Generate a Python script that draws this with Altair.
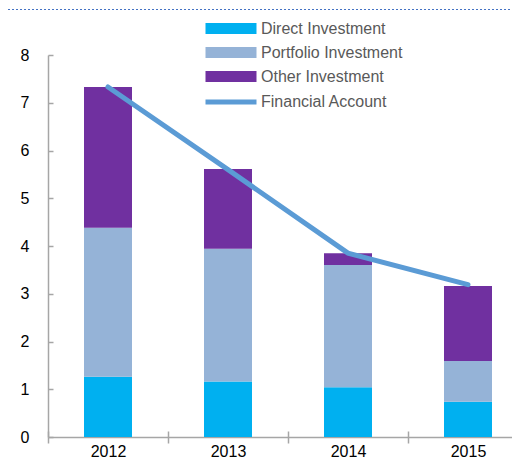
import altair as alt
import pandas as pd

years = ["2012", "2013", "2014", "2015"]
direct = [1.26, 1.16, 1.04, 0.74]
portfolio = [3.12, 2.78, 2.56, 0.85]
other = [2.95, 1.67, 0.25, 1.57]
financial = [7.33, 5.60, 3.85, 3.19]
series = ["Direct Investment", "Portfolio Investment", "Other Investment"]
bar_colors = ["#00B0F0", "#95B3D7", "#7030A0"]
line_name = "Financial Account"
line_color = "#5B9BD5"
y_ticks = [0, 1, 2, 3, 4, 5, 6, 7, 8]

rows = []
for i, yr in enumerate(years):
    for k, (name, vals) in enumerate(zip(series, [direct, portfolio, other])):
        rows.append({"year": yr, "series": name, "value": vals[i], "order": k})
bars_df = pd.DataFrame(rows)
line_df = pd.DataFrame({"year": years, "value": financial, "series": [line_name] * len(years)})

FONT = "Liberation Sans"
W, H = 464, 382      # visible view (svg 504 x 452 keeps the page inside the window)
RANGE_W = 480        # full band range, right part is cut off as in the reference

xscale = alt.Scale(domain=years, range=[0, RANGE_W], paddingInner=0, paddingOuter=0)
yscale = alt.Scale(domain=[0, 8], nice=False)

SYM_PATH = "M-4.636,-1H4.636V1H-4.636Z"
LINE_PATH = "M-4.636,0H4.636"

bars = alt.Chart(bars_df).mark_bar(size=48).encode(
    x=alt.X("year:N", scale=xscale, sort=years, axis=alt.Axis(
        orient="bottom", title=None, labelAngle=0, tickBand="extent",
        tickSize=6, labelPadding=0, labelFontSize=16, labelFont=FONT,
        labelColor="#000000", domainColor="#A6A6A6", tickColor="#A6A6A6",
        domainWidth=1.5, tickWidth=1.5)),
    y=alt.Y("value:Q", stack="zero", scale=yscale, axis=alt.Axis(
        orient="left", title=None, values=y_ticks, ticks=False, labelPadding=19,
        labelFontSize=16, labelFont=FONT, labelColor="#000000",
        domainColor="#A6A6A6", domainWidth=1.5, grid=False)),
    color=alt.Color("series:N", scale=alt.Scale(domain=series, range=bar_colors), legend=alt.Legend(
        title=None, orient="none", legendX=175, legendY=-34.5, padding=0,
        symbolType=SYM_PATH, symbolSize=121, symbolStrokeWidth=0,
        labelFont=FONT, labelFontSize=16, labelColor="#595959", labelOffset=22,
        rowPadding=8, labelLimit=300)),
    order=alt.Order("order:Q"),
)

line = alt.Chart(line_df).mark_line(strokeWidth=5, strokeCap="round").encode(
    x=alt.X("year:N", scale=xscale, sort=years, axis=alt.Axis(
        orient="top", offset=-H, title=None, labels=False, domain=False,
        tickBand="extent", tickSize=6, tickColor="#A6A6A6", tickWidth=1.5)),
    y=alt.Y("value:Q", scale=yscale, axis=alt.Axis(
        orient="right", offset=-W, title=None, labels=False, domain=False,
        values=y_ticks, tickSize=5, tickColor="#A6A6A6", tickWidth=1.5, grid=False)),
    stroke=alt.Stroke("series:N", scale=alt.Scale(domain=[line_name], range=[line_color]), legend=alt.Legend(
        title=None, orient="none", legendX=175, legendY=39, padding=0,
        symbolType=LINE_PATH, symbolSize=121, symbolStrokeWidth=5,
        labelFont=FONT, labelFontSize=16, labelColor="#595959", labelOffset=22,
        labelLimit=300)),
)

dotted = alt.Chart(alt.Data(values=[{}])).mark_rule(
    color="#4472C4", strokeWidth=1, strokeDash=[2, 2]
).encode(x=alt.value(-40), x2=alt.value(RANGE_W), y=alt.value(-45.5))

chart = alt.layer(bars, line, dotted).resolve_scale(
    color="independent"
).resolve_axis(x="independent", y="independent").properties(
    width=W, height=H,
    autosize=alt.AutoSizeParams(type="none"),
    padding={"left": 40, "top": 47, "right": 0, "bottom": 23},
).configure_view(stroke=None)

chart.save("out.html", embed_options={"renderer": "svg", "actions": False})
